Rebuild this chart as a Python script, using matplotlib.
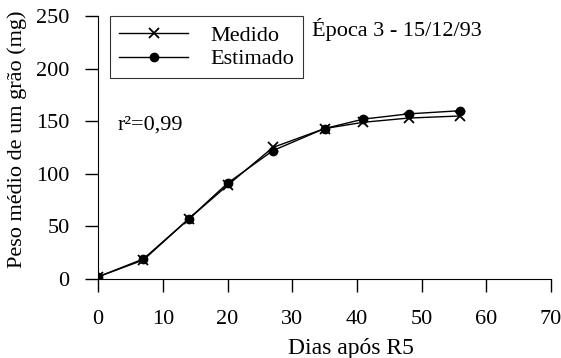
import matplotlib.pyplot as plt

plt.rcParams['font.family'] = ['Liberation Serif', 'DejaVu Serif']

# Dias após R5 e peso médio de um grão (mg)
dias = [0, 7, 14, 20, 27, 35, 41, 48, 56]
medido = [2, 18, 57, 89, 125, 143, 149, 153, 155]
estimado = [2, 19, 57, 91, 122, 143, 152, 157, 160]

fig = plt.figure(figsize=(5.61, 3.58), dpi=100)
ax = fig.add_axes([0.175, 0.221, 0.807, 0.734])

ax.plot(dias, medido, color='black', lw=1, marker='x', ms=7, mew=1.3, label='Medido')
ax.plot(dias, estimado, color='black', lw=1, marker='o', ms=6, label='Estimado')

ax.set_xlim(0, 70)
ax.set_ylim(0, 250)
ax.set_xticks(range(0, 71, 10))
ax.set_yticks(range(0, 251, 50))
for s in ['top', 'right']:
    ax.spines[s].set_visible(False)
ax.tick_params(direction='out', length=9.5, width=1, labelsize=16)
ax.tick_params(axis='y', pad=11)
ax.tick_params(axis='x', pad=13)

ax.set_xlabel('Dias após R5', fontsize=17)
ax.xaxis.set_label_coords(0.558, -0.225)
ax.set_ylabel('Peso médio de um grão (mg)', fontsize=16)
ax.yaxis.set_label_coords(-0.158, 0.53)

leg = ax.legend(loc='upper left', bbox_to_anchor=(0.0265, 1.0), fontsize=16,
                frameon=True, fancybox=False, edgecolor='black',
                handlelength=3.1, borderpad=0.4, labelspacing=0.15,
                handletextpad=1.0, borderaxespad=0)
leg.get_frame().set_linewidth(0.8)

ax.text(33, 237, 'Época 3 - 15/12/93', fontsize=16, va='center')
ax.text(3, 146, 'r²=0,99', fontsize=16, va='center')

fig.savefig('out.png', dpi=100)
